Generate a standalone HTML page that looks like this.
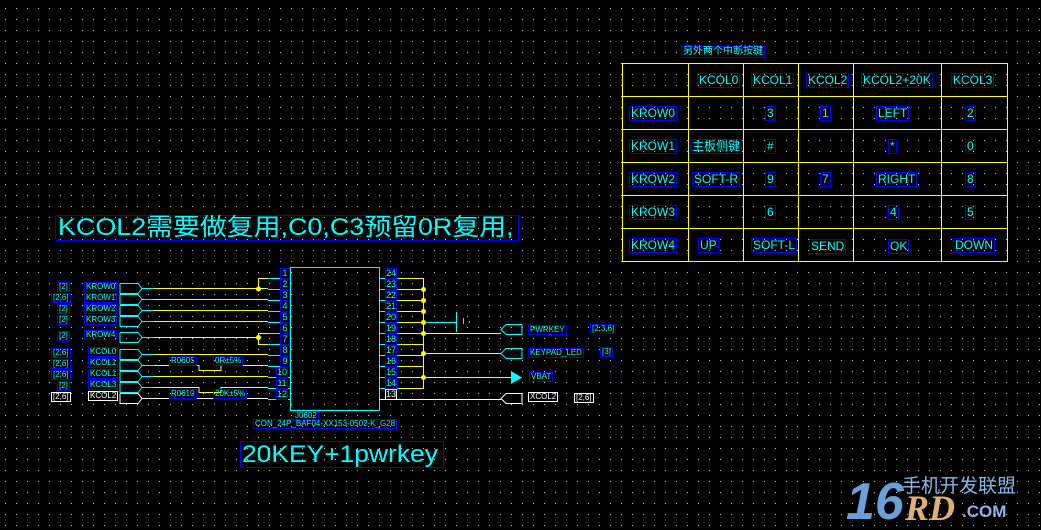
<!DOCTYPE html>
<html><head><meta charset="utf-8"><style>
body{margin:0;background:#000;width:1041px;height:530px;overflow:hidden;position:relative;font-family:"Liberation Sans","Noto Sans CJK SC",sans-serif}
.l{position:absolute;color:#00ffff;border:1px solid #0000ff;font-size:10px;line-height:10px;padding:0 1px;white-space:nowrap}
.w{color:#fff;border-color:#fff}
.s{font-size:8px;line-height:8px}
.p{position:absolute;color:#00ffff;border:1px solid #0000ff;font-size:9px;line-height:9px;width:8px;text-align:center}
.t{font-size:12px;line-height:13px}
svg{position:absolute;left:0;top:0}
.sc{display:inline-block;transform-origin:0 0}
</style></head><body>
<svg width="1041" height="530">
<defs><pattern id="g" x="5" y="8" width="11" height="11" patternUnits="userSpaceOnUse"><rect x="0" y="0" width="1" height="1" fill="#ccc"/></pattern></defs>
<rect width="1041" height="530" fill="url(#g)"/>
<g stroke="#ffff00" stroke-width="1" fill="none">
<rect x="622.5" y="63.5" width="385" height="198"/>
<path d="M688.5 63v198M743.5 63v198M798.5 63v198M853.5 63v198M941.5 63v198M622 96.5h385M622 129.5h385M622 162.5h385M622 195.5h385M622 228.5h385"/>
</g>
<rect x="290.5" y="267.5" width="89" height="143" fill="none" stroke="#00ffff"/>
<g stroke="#00ffff" fill="none">
<path d="M268 278.5h22M268 289.5h22M268 300.5h22M268 311.5h22M268 322.5h22M268 333.5h22M268 344.5h22M268 355.5h22M268 366.5h22M268 377.5h22M268 388.5h22M268 399.5h22"/>
<path d="M379 278.5h20M379 289.5h20M379 300.5h20M379 311.5h20M379 322.5h20M379 333.5h20M379 344.5h20M379 355.5h20M379 366.5h20M379 377.5h20M379 388.5h20"/>
<path d="M120 283.5h18l4 5-4 5h-18M120 294.5h18l4 5-4 5h-18M120 305.5h18l4 5-4 5h-18M120 316.5h18l4 5-4 5h-18"/>
<path d="M120 283.5v10M120 294.5v10M120 305.5v10M120 316.5v10"/>
<path d="M120 332.5h18l4 5-4 5h-18v-10"/>
<path d="M120 349.5h18l4 5-4 5h-18v-10M120 360.5h18l4 5-4 5h-18v-10M120 371.5h18l4 5-4 5h-18v-10M120 382.5h18l4 5-4 5h-18v-10"/>
<path d="M142 288.5h12M142 299.5h12M142 310.5h12M142 321.5h12M142 337.5h12M142 354.5h12M142 365.5h12M142 376.5h12M142 387.5h12"/>
<path d="M456.5 312v20M463.5 318v6M469.5 321v2M423 322.5h33"/>
<path d="M522 324.5h-16l-5 5 5 5h16v-10M522 348.5h-16l-5 5 5 5h16v-10"/>
</g>
<path d="M120 393.5h18l4 5-4 5h-18v-10M142 398.5h12M154 398.5h114" stroke="#fff" fill="none"/>
<path d="M522 393.5h-16l-5 5 5 5h16v-10M379 399.5h122" stroke="#fff" fill="none"/>
<g stroke="#ffff00" fill="none">
<path d="M154 288.5h114M154 299.5h114M154 310.5h114M154 321.5h114M154 337.5h104M154 354.5h114M154 376.5h114"/>
<path d="M258.5 278v11M258 278.5h10M258.5 333v12M258 333.5h10M258 344.5h10"/>
<path d="M154 365.5h45v5h22v-5h47M154 387.5h45v5h22v-5h47" />
<path d="M399 278.5h24.5v110H399M399 289.5h24M399 300.5h24M399 311.5h24M399 322.5h24M399 333.5h24M399 344.5h24M399 355.5h24M399 366.5h24M399 377.5h24"/>
<path d="M423 333.5h78M423 353.5h78M423 377.5h88"/>
</g>
<g fill="#ffff00">
<circle cx="258.5" cy="289" r="2.5"/><circle cx="258.5" cy="337.5" r="2.5"/>
<circle cx="423.5" cy="289.5" r="2.5"/><circle cx="423.5" cy="300.5" r="2.5"/><circle cx="423.5" cy="311.5" r="2.5"/><circle cx="423.5" cy="322.5" r="2.5"/><circle cx="423.5" cy="333.5" r="2.5"/><circle cx="423.5" cy="353.5" r="2.5"/><circle cx="423.5" cy="377.5" r="2.5"/>
</g>
<path d="M511 371l11 6.5-11 6.5z" fill="#00ffff"/>
<text x="846" y="519" font-family="Liberation Sans" font-style="italic" font-weight="bold" font-size="52" fill="#6a9fd8">16</text>
<text x="905" y="520" font-family="Liberation Serif" font-style="italic" font-weight="bold" font-size="36" fill="#e0b070">RD</text>
<text x="962" y="517" font-family="Liberation Sans" font-weight="bold" font-size="17" fill="#8ab6e8">.COM</text>
<text x="902" y="492" font-family="Noto Sans CJK SC,sans-serif" font-size="19" fill="#8ab6e8">手机开发联盟</text>
</svg>
<div class="l" style="left:681px;top:46px">另外两个中断按键</div>
<div class="l t" style="left:697px;top:73px">KCOL0</div>
<div class="l t" style="left:751px;top:73px">KCOL1</div>
<div class="l t" style="left:806px;top:73px">KCOL2</div>
<div class="l t" style="left:861px;top:73px">KCOL2+20K</div>
<div class="l t" style="left:951px;top:73px">KCOL3</div>
<div class="l t" style="left:629px;top:106px">KROW0</div>
<div class="l t" style="left:629px;top:139px">KROW1</div>
<div class="l t" style="left:629px;top:172px">KROW2</div>
<div class="l t" style="left:629px;top:205px">KROW3</div>
<div class="l t" style="left:629px;top:238px">KROW4</div>
<div class="l t" style="left:765px;top:106px">3</div><div class="l t" style="left:820px;top:106px">1</div><div class="l t" style="left:876px;top:106px">LEFT</div><div class="l t" style="left:965px;top:106px">2</div>
<div class="l t" style="left:690px;top:139px">主板侧键</div><div class="l t" style="left:765px;top:139px">#</div><div class="l t" style="left:888px;top:139px">*</div><div class="l t" style="left:965px;top:139px">0</div>
<div class="l t" style="left:692px;top:172px">SOFT-R</div><div class="l t" style="left:765px;top:172px">9</div><div class="l t" style="left:820px;top:172px">7</div><div class="l t" style="left:876px;top:172px">RIGHT</div><div class="l t" style="left:965px;top:172px">8</div>
<div class="l t" style="left:765px;top:205px">6</div><div class="l t" style="left:888px;top:205px">4</div><div class="l t" style="left:965px;top:205px">5</div>
<div class="l t" style="left:698px;top:238px">UP</div><div class="l t" style="left:751px;top:238px">SOFT-L</div><div class="l t" style="left:809px;top:239px">SEND</div><div class="l t" style="left:888px;top:239px">OK</div><div class="l t" style="left:953px;top:238px">DOWN</div>
<div class="l" style="left:55px;top:215px;font-size:24px;line-height:24px;width:460px;height:24px;padding:0 0 0 2px"><span class="sc" style="transform:scaleX(1.12)">KCOL2需要做复用,C0,C3预留0R复用,</span></div>
<div class="l" style="left:240px;top:441px;font-size:24px;line-height:25px;width:200px;height:25px"><span class="sc" style="transform:scaleX(1.1)">20KEY+1pwrkey</span></div>
<div class="l s" style="left:293px;top:411px">J0602</div>
<div class="l s" style="left:253px;top:419px">CON_24P_BAF04-XX153-0502-K_G28</div>
<div class="l s" style="left:57px;top:282px">[2]</div><div class="l s" style="left:51px;top:293px">[2,6]</div><div class="l s" style="left:57px;top:304px">[2]</div><div class="l s" style="left:57px;top:315px">[2]</div><div class="l s" style="left:57px;top:331px">[2]</div>
<div class="l s" style="left:51px;top:348px">[2,6]</div><div class="l s" style="left:51px;top:359px">[2,6]</div><div class="l s" style="left:51px;top:370px">[2,6]</div><div class="l s" style="left:57px;top:381px">[2]</div><div class="l s w" style="left:51px;top:392px">[2,6]</div>
<div class="l s" style="left:84px;top:282px">KROW0</div><div class="l s" style="left:84px;top:293px">KROW1</div><div class="l s" style="left:84px;top:304px">KROW2</div><div class="l s" style="left:84px;top:315px">KROW3</div><div class="l s" style="left:84px;top:330px">KROW4</div>
<div class="l s" style="left:88px;top:347px">KCOL0</div><div class="l s" style="left:88px;top:358px">KCOL1</div><div class="l s" style="left:88px;top:369px">KCOL1</div><div class="l s" style="left:88px;top:380px">KCOL3</div><div class="l s w" style="left:88px;top:391px">KCOL2</div>
<div class="l s" style="left:169px;top:356px">R0605</div><div class="l s" style="left:213px;top:356px">0R±5%</div>
<div class="l s" style="left:169px;top:389px">R0610</div><div class="l s" style="left:213px;top:389px">20K±5%</div>
<div class="p" style="left:280px;top:268px">1</div><div class="p" style="left:280px;top:279px">2</div><div class="p" style="left:280px;top:290px">3</div><div class="p" style="left:280px;top:301px">4</div><div class="p" style="left:280px;top:312px">5</div><div class="p" style="left:280px;top:323px">6</div><div class="p" style="left:280px;top:334px">7</div><div class="p" style="left:280px;top:345px">8</div><div class="p" style="left:280px;top:356px">9</div>
<div class="p" style="left:276px;top:367px;width:10px">10</div><div class="p" style="left:276px;top:378px;width:10px">11</div><div class="p" style="left:276px;top:389px;width:10px">12</div>
<div class="p" style="left:385px;top:268px;width:10px">24</div><div class="p" style="left:385px;top:279px;width:10px">23</div><div class="p" style="left:385px;top:290px;width:10px">22</div><div class="p" style="left:385px;top:301px;width:10px">21</div><div class="p" style="left:385px;top:312px;width:10px">20</div><div class="p" style="left:385px;top:323px;width:10px">19</div><div class="p" style="left:385px;top:334px;width:10px">18</div><div class="p" style="left:385px;top:345px;width:10px">17</div><div class="p" style="left:385px;top:356px;width:10px">16</div><div class="p" style="left:385px;top:367px;width:10px">15</div><div class="p" style="left:385px;top:378px;width:10px">14</div><div class="p" style="left:385px;top:389px;width:10px;color:#fff;border-color:#fff">13</div>
<div class="l s" style="left:528px;top:325px">PWRKEY</div><div class="l s" style="left:590px;top:324px">[2,3,6]</div>
<div class="l s" style="left:528px;top:348px">KEYPAD_LED</div><div class="l s" style="left:600px;top:347px">[3]</div>
<div class="l s" style="left:529px;top:372px">VBAT</div>
<div class="l s w" style="left:528px;top:392px">XCOL2</div><div class="l s w" style="left:574px;top:393px">[2,6]</div>
</body></html>
